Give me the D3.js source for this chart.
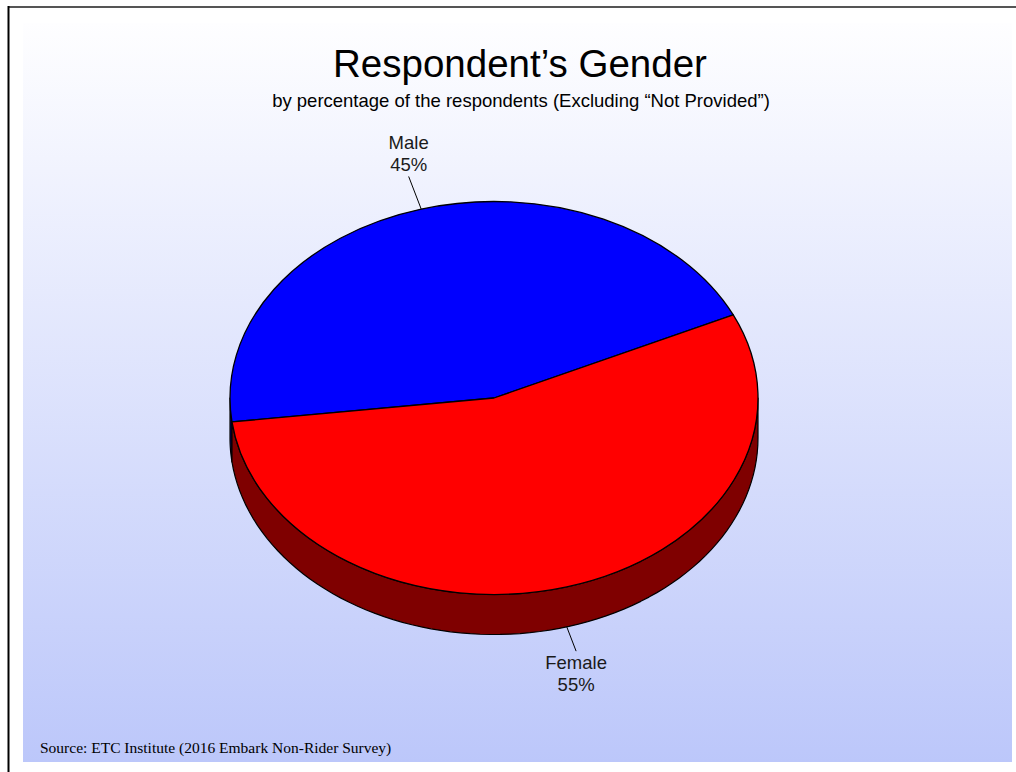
<!DOCTYPE html>
<html>
<head>
<meta charset="utf-8">
<script src="https://cdn.jsdelivr.net/npm/d3@7"></script>
<style>
  html, body { margin: 0; padding: 0; background: #ffffff; }
  svg { display: block; }
</style>
</head>
<body>
<svg id="chart" width="1016" height="772"></svg>
<script>
// ---- data ----
const categories = ["Male", "Female"];
const values = [45, 55];
const valueLabels = ["45%", "55%"];
const topColors = ["#0000FF", "#FF0000"];
const sideColors = ["#00007F", "#7F0000"];
const titleText = "Respondent\u2019s Gender";
const subtitleText = "by percentage of the respondents (Excluding \u201CNot Provided\u201D)";
const sourceText = "Source:  ETC Institute (2016 Embark Non-Rider Survey)";

// ---- layout ----
const W = 1016, H = 772;
const cx = 494, cy = 398, rx = 264, ry = 196.5, depth = 40;
const startDeg = -97;

const svg = d3.select("#chart");
const defs = svg.append("defs");
const grad = defs.append("linearGradient").attr("id", "bg").attr("x1", 0).attr("y1", 0).attr("x2", 0).attr("y2", 1);
grad.append("stop").attr("offset", "0%").attr("stop-color", "#FEFEFF");
grad.append("stop").attr("offset", "100%").attr("stop-color", "#BCC7FA");

svg.append("rect").attr("x", 0).attr("y", 0).attr("width", W).attr("height", H).attr("fill", "#ffffff");
svg.append("rect").attr("x", 23).attr("y", 23).attr("width", 989).attr("height", 739).attr("fill", "url(#bg)");

// frame lines
svg.append("line").attr("x1", 8).attr("x2", W).attr("y1", 7).attr("y2", 7).attr("stroke", "#555").attr("stroke-width", 2);
svg.append("line").attr("x1", 8.5).attr("x2", 8.5).attr("y1", 6).attr("y2", H).attr("stroke", "#000").attr("stroke-width", 2);

// titles
svg.append("text").attr("x", 520).attr("y", 76.5).attr("text-anchor", "middle")
  .attr("font-family", "Liberation Sans, Arial, sans-serif").attr("font-size", 38.5).attr("fill", "#000").text(titleText);
svg.append("text").attr("x", 521).attr("y", 106.5).attr("text-anchor", "middle")
  .attr("font-family", "Liberation Sans, Arial, sans-serif").attr("font-size", 18.5).attr("fill", "#000").text(subtitleText);
svg.append("text").attr("x", 40).attr("y", 753)
  .attr("font-family", "Liberation Serif, Times New Roman, serif").attr("font-size", 15.5).attr("fill", "#000").text(sourceText);

// pie
const pie = d3.pie().sort(null).value(d => d)
  .startAngle(startDeg * Math.PI / 180)
  .endAngle(startDeg * Math.PI / 180 + 2 * Math.PI);
const arcs = pie(values);

const pt = (a, dy = 0) => [cx + rx * Math.sin(a), cy - ry * Math.cos(a) + dy];

const g = svg.append("g");

// side walls (visible front half: angles in [PI/2, 3PI/2] modulo 2PI)
function sidePath(a0, a1) {
  const n = 80;
  const top = d3.range(n + 1).map(i => pt(a0 + (a1 - a0) * i / n));
  const bot = d3.range(n + 1).map(i => pt(a1 - (a1 - a0) * i / n, depth));
  return d3.line()(top.concat(bot)) + "Z";
}
arcs.forEach((d, i) => {
  for (let k = -1; k <= 1; k++) {
    const lo = Math.PI / 2 + k * 2 * Math.PI, hi = 1.5 * Math.PI + k * 2 * Math.PI;
    const a0 = Math.max(d.startAngle, lo), a1 = Math.min(d.endAngle, hi);
    if (a1 > a0) {
      g.append("path").attr("d", sidePath(a0, a1))
        .attr("fill", sideColors[i]).attr("stroke", "#000").attr("stroke-width", 1.2)
        .attr("stroke-linejoin", "round");
    }
  }
});

// top faces
const arcGen = d3.arc().innerRadius(0).outerRadius(rx);
arcs.forEach((d, i) => {
  g.append("path").attr("d", arcGen(d))
    .attr("transform", `translate(${cx},${cy}) scale(1,${ry / rx})`)
    .attr("vector-effect", "non-scaling-stroke")
    .attr("fill", topColors[i]).attr("stroke", "#000").attr("stroke-width", 1.3)
    .attr("stroke-linejoin", "round");
});

// labels with leader lines
const leaderLen = [35, 26];
const lineGap = 21.5;
arcs.forEach((d, i) => {
  const mid = (d.startAngle + d.endAngle) / 2;
  const front = Math.cos(mid) < 0;
  const p = pt(mid, front ? depth : 0);
  const dx = p[0] - cx, dy = p[1] - (front ? cy + depth : cy);
  const len = Math.hypot(dx, dy);
  const q = [p[0] + dx / len * leaderLen[i], p[1] + dy / len * leaderLen[i]];
  svg.append("line").attr("x1", p[0]).attr("y1", p[1]).attr("x2", q[0]).attr("y2", q[1])
    .attr("stroke", "#000").attr("stroke-width", 1);
  const t = svg.append("text").attr("text-anchor", "middle")
    .attr("font-family", "Liberation Sans, Arial, sans-serif").attr("font-size", 18.5).attr("fill", "#1a1a1a");
  let y1;
  if (front) y1 = q[1] + 18; else y1 = q[1] - 5.5 - lineGap;
  t.append("tspan").attr("x", q[0]).attr("y", y1).text(categories[i]);
  t.append("tspan").attr("x", q[0]).attr("y", y1 + lineGap).text(valueLabels[i]);
});
</script>
</body>
</html>
